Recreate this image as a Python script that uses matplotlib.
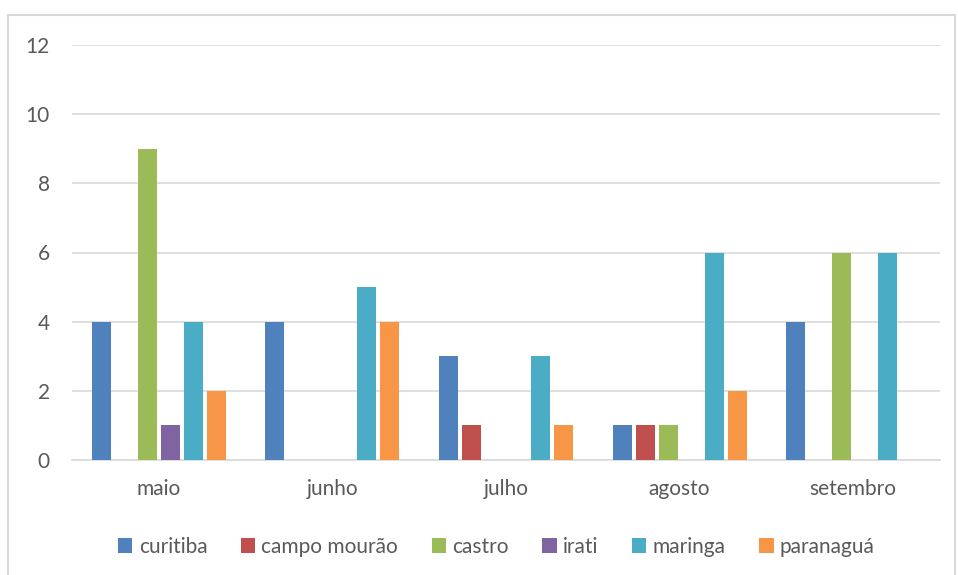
import numpy as np
import matplotlib.pyplot as plt
from matplotlib.patches import Rectangle

# Monthly counts per city
months = ["maio", "junho", "julho", "agosto", "setembro"]
cities = ["curitiba", "campo mourão", "castro", "irati", "maringa", "paranaguá"]
curitiba = [4, 4, 3, 1, 4]
campo_mourao = [0, 0, 1, 1, 0]
castro = [9, 0, 0, 1, 6]
irati = [1, 0, 0, 0, 0]
maringa = [4, 5, 3, 6, 6]
paranagua = [2, 4, 1, 2, 0]
series = [curitiba, campo_mourao, castro, irati, maringa, paranagua]
colors = ["#4F81BD", "#C0504D", "#9BBB59", "#8064A2", "#4BACC6", "#F79646"]

plt.rcParams["font.family"] = ["Lato", "DejaVu Sans"]
text_color = "#595959"

fig = plt.figure(figsize=(9.58, 5.75), dpi=100)
ax = fig.add_axes([72 / 958, 0.2, (940 - 72) / 958, (460 - 45) / 575])

# chart border
fig.patches.append(Rectangle((8 / 958, -0.01), (947 / 958), 1 - 15 / 575 + 0.01,
                             transform=fig.transFigure, fill=False,
                             edgecolor="#D9D9D9", linewidth=1.5))

x = np.arange(len(months))
step = 0.1325
width = 0.11
for i, (name, vals, c) in enumerate(zip(cities, series, colors)):
    ax.bar(x + (i - 2.5) * step, vals, width, color=c, label=name, zorder=3)

ax.set_xlim(-0.5, len(months) - 0.5)
ax.set_ylim(0, 12)
ax.set_yticks(range(0, 13, 2))
ax.set_xticks(x)
ax.set_xticklabels(months)
ax.grid(axis="y", color="#D9D9D9", linewidth=1.2, zorder=0)
for s in ax.spines.values():
    s.set_visible(False)
ax.spines["bottom"].set_visible(True)
ax.spines["bottom"].set_color("#D9D9D9")
ax.spines["bottom"].set_linewidth(1.2)
ax.tick_params(length=0, labelsize=15, colors=text_color)
ax.tick_params(axis="x", pad=14)
ax.tick_params(axis="y", pad=16)

fig.legend(loc="center", bbox_to_anchor=(0.518, 1 - 547 / 575), ncol=6,
           frameon=False, fontsize=15, handlelength=0.7, handleheight=0.7,
           handletextpad=0.3, columnspacing=1.6, labelcolor=text_color)

fig.savefig("out.png", dpi=100)
